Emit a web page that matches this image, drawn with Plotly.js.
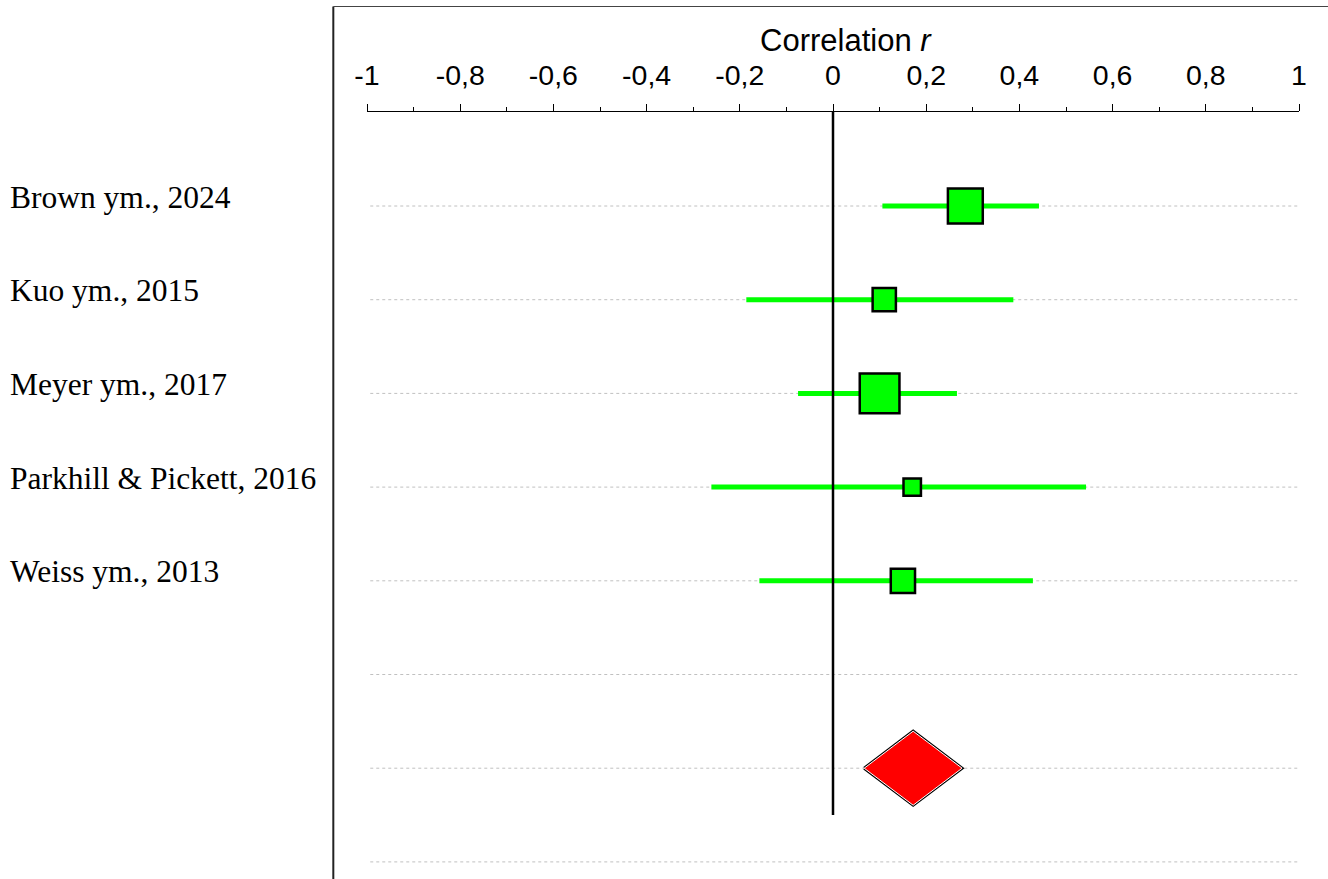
<!DOCTYPE html>
<html>
<head>
<meta charset="utf-8">
<script src="https://cdn.plot.ly/plotly-3.0.1.min.js"></script>
<style>html,body{margin:0;padding:0;background:#fff;}#chart{width:1328px;height:879px;}</style>
</head>
<body>
<div id="chart"></div>
<script>
// ---- data ----
var studies = ["Brown ym., 2024", "Kuo ym., 2015", "Meyer ym., 2017", "Parkhill & Pickett, 2016", "Weiss ym., 2013"];
var estimates = [0.284, 0.110, 0.100, 0.170, 0.150];
var lowerCI = [0.106, -0.186, -0.075, -0.261, -0.158];
var upperCI = [0.442, 0.387, 0.266, 0.543, 0.429];
var relWeights = [28.8, 12.8, 37.3, 7.2, 13.9];   // relative weight (%)
var summaryEst = 0.172;
var summaryLower = 0.067;
var summaryUpper = 0.277;
var tickValues = [-1, -0.8, -0.6, -0.4, -0.2, 0, 0.2, 0.4, 0.6, 0.8, 1];
var tickLabels = ["-1", "-0,8", "-0,6", "-0,4", "-0,2", "0", "0,2", "0,4", "0,6", "0,8", "1"];

// ---- layout helpers ----
var W = 1328, H = 879;
var plotL = 366.7, plotR = 1299, plotT = 112, plotB = 879;
var rowPx = 93.7;
var yTop = -(206 - plotT) / rowPx;
var yBot = yTop + (plotB - plotT) / rowPx;
var nRows = 8;               // 5 studies, blank, summary, blank
var summaryRow = 6;
function px2paperX(p) { return (p - plotL) / (plotR - plotL); }
function px2paperY(p) { return (plotB - p) / (plotB - plotT); }

var traces = [];
var shapes = [];
var annotations = [];

// dotted row lines
for (var r = 0; r < nRows; r++) {
  shapes.push({type: "line", xref: "x", yref: "y", x0: -0.993, x1: 1, y0: r, y1: r,
    line: {color: "#c0c0c0", width: 1, dash: "dot"}, layer: "below"});
}

// CI lines
var ciX = [], ciY = [];
for (var i = 0; i < studies.length; i++) {
  ciX.push(lowerCI[i], upperCI[i], null);
  ciY.push(i, i, null);
}
traces.push({type: "scatter", mode: "lines", x: ciX, y: ciY, hoverinfo: "skip",
  line: {color: "#00ff00", width: 5}, showlegend: false});

// squares
var sizes = relWeights.map(function (w) { return Math.sqrt(w) * 6.5; });
traces.push({type: "scatter", mode: "markers", x: estimates, y: studies.map(function (s, i) { return i; }),
  marker: {symbol: "square", size: sizes, opacity: 1, color: "#00ff00", line: {color: "#000", width: 2.5}},
  showlegend: false, hoverinfo: "x"});

// summary diamond
var dh = 0.395;
var dX = [summaryLower, summaryEst, summaryUpper, summaryEst, summaryLower];
var dY = [summaryRow, summaryRow - dh, summaryRow, summaryRow + dh, summaryRow];
traces.push({type: "scatter", mode: "lines", x: dX, y: dY, line: {color: "#000", width: 3},
  showlegend: false, hoverinfo: "skip"});
traces.push({type: "scatter", mode: "lines", x: dX, y: dY, fill: "toself", fillcolor: "#ff0000",
  line: {color: "#ffffff", width: 1}, showlegend: false, hoverinfo: "skip"});

// zero line
shapes.push({type: "line", xref: "x", yref: "y", x0: 0, x1: 0, y0: yTop, y1: 6.5,
  line: {color: "#000", width: 2.5}, layer: "above"});

// frame lines
shapes.push({type: "line", xref: "paper", yref: "paper", x0: px2paperX(333), x1: px2paperX(333),
  y0: px2paperY(6.5), y1: px2paperY(879), line: {color: "#222", width: 2}});
shapes.push({type: "line", xref: "paper", yref: "paper", x0: px2paperX(333), x1: px2paperX(1328),
  y0: px2paperY(6.5), y1: px2paperY(6.5), line: {color: "#444", width: 1}});

// study labels
for (var j = 0; j < studies.length; j++) {
  annotations.push({xref: "paper", yref: "y", x: px2paperX(8), y: j, yshift: 9,
    xanchor: "left", yanchor: "middle", text: studies[j], showarrow: false,
    font: {family: "Liberation Serif, Times New Roman, serif", size: 31.5, color: "#000"}});
}

// axis title
annotations.push({xref: "paper", yref: "paper", x: px2paperX(846), y: px2paperY(59),
  xanchor: "center", yanchor: "bottom", showarrow: false, text: "Correlation <i>r</i>",
  borderpad: 0,
  font: {family: "Liberation Sans, Arial, sans-serif", size: 31, color: "#000"}});

var layout = {
  width: W, height: H,
  margin: {l: plotL, r: W - plotR, t: plotT, b: 0, pad: 0},
  paper_bgcolor: "#fff", plot_bgcolor: "#fff",
  showlegend: false,
  xaxis: {range: [-1, 1], side: "top", showgrid: false, zeroline: false,
    showline: true, linecolor: "#000", linewidth: 1, ticks: "outside", ticklen: 7,
    tickwidth: 1, tickcolor: "#000", tickvals: tickValues, ticktext: tickLabels,
    ticklabelstandoff: 8,
    minor: {dtick: 0.1, tick0: -1, ticks: "outside", ticklen: 4, tickwidth: 1, tickcolor: "#000", showgrid: false},
    tickfont: {family: "Liberation Sans, Arial, sans-serif", size: 28.5, color: "#000"},
    fixedrange: true},
  yaxis: {range: [yBot, yTop], visible: false, fixedrange: true},
  shapes: shapes,
  annotations: annotations
};

Plotly.newPlot("chart", traces, layout, {displayModeBar: false, staticPlot: true});
</script>
</body>
</html>
